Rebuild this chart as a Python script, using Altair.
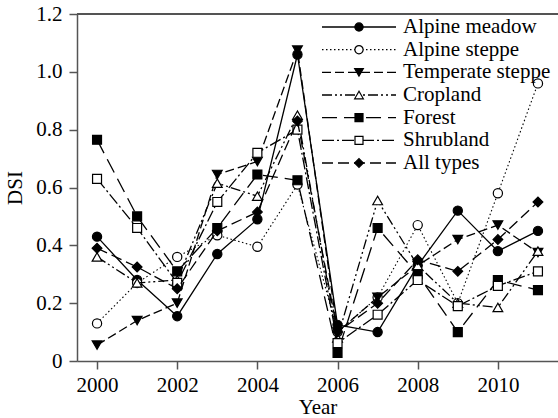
import altair as alt
import pandas as pd

years = list(range(2000, 2012))
series_names = ["Alpine meadow", "Alpine steppe", "Temperate steppe", "Cropland",
                "Forest", "Shrubland", "All types"]
alpine_meadow = [0.43, 0.28, 0.155, 0.37, 0.49, 1.06, 0.125, 0.10, 0.33, 0.52, 0.38, 0.45]
alpine_steppe = [0.13, 0.27, 0.36, 0.435, 0.395, 0.61, 0.10, 0.22, 0.47, 0.20, 0.58, 0.96]
temperate_steppe = [0.055, 0.14, 0.20, 0.645, 0.69, 1.075, 0.10, 0.22, 0.33, 0.42, 0.47, 0.375]
cropland = [0.36, 0.27, 0.28, 0.615, 0.57, 0.85, 0.08, 0.555, 0.33, 0.20, 0.185, 0.38]
forest = [0.765, 0.50, 0.31, 0.46, 0.645, 0.625, 0.028, 0.46, 0.30, 0.10, 0.28, 0.245]
shrubland = [0.63, 0.46, 0.27, 0.55, 0.72, 0.80, 0.062, 0.16, 0.28, 0.19, 0.26, 0.31]
all_types = [0.39, 0.325, 0.25, 0.45, 0.515, 0.83, 0.10, 0.20, 0.35, 0.31, 0.42, 0.55]

values = [alpine_meadow, alpine_steppe, temperate_steppe, cropland, forest, shrubland, all_types]

rows = []
for name, vals in zip(series_names, values):
    for y, v in zip(years, vals):
        rows.append({"year": y, "dsi": v, "series": name})
df = pd.DataFrame(rows)
leg_df = pd.DataFrame({"series": series_names})

# styles
dashes = {
    "Alpine meadow": None,
    "Alpine steppe": [1.5, 2.5],
    "Temperate steppe": [9, 4],
    "Cropland": [10, 3, 2, 3, 2, 3],
    "Forest": [15, 7],
    "Shrubland": [12, 3, 2, 3],
    "All types": [11, 5],
}
shapes = {
    "Alpine meadow": ("circle", True),
    "Alpine steppe": ("circle", False),
    "Temperate steppe": ("triangle-down", True),
    "Cropland": ("triangle-up", False),
    "Forest": ("square", True),
    "Shrubland": ("square", False),
    "All types": ("diamond", True),
}

FONT = "Liberation Serif"
FS = 21
W, H = 481, 347
AXC = "#555555"

xscale = alt.Scale(domain=[1999.5, 2011.5], nice=False, zero=False)
yscale = alt.Scale(domain=[0, 1.2], nice=False)

xaxis = alt.Axis(values=[2000, 2002, 2004, 2006, 2008, 2010], format="d", title="Year",
                 grid=False, tickSize=8, labelPadding=5, titlePadding=1,
                 labelFont=FONT, labelFontSize=FS, titleFont=FONT, titleFontSize=FS,
                 titleFontWeight="normal", labelColor="black", titleColor="black",
                 domainColor=AXC, tickColor=AXC, domainWidth=1.5, tickWidth=1.5)
yaxis = alt.Axis(values=[0, 0.2, 0.4, 0.6, 0.8, 1.0, 1.2], title="DSI",
                 labelExpr="datum.value == 0 ? '0' : format(datum.value, '.1f')",
                 grid=False, tickSize=8, labelPadding=7, titlePadding=10,
                 labelFont=FONT, labelFontSize=FS, titleFont=FONT, titleFontSize=FS,
                 titleFontWeight="normal", labelColor="black", titleColor="black",
                 domainColor=AXC, tickColor=AXC, domainWidth=1.5, tickWidth=1.5)

enc_x = alt.X("year:Q", scale=xscale, axis=xaxis)
enc_y = alt.Y("dsi:Q", scale=yscale, axis=yaxis)

base = alt.Chart(df)
data_layers = []
legend_layers = []
leg_y = alt.Y("series:N", scale=alt.Scale(type="point", domain=series_names,
                                          range=[13, 149], padding=0), axis=None)
leg_base = alt.Chart(leg_df)
for name in series_names:
    sub = base.transform_filter(alt.datum.series == name)
    lkw = dict(color="black", strokeWidth=1.3)
    if dashes[name]:
        lkw["strokeDash"] = dashes[name]
    if name == "Alpine steppe":
        lkw["strokeWidth"] = 1.1
    line = sub.mark_line(**lkw).encode(x=enc_x, y=enc_y)
    shp, filled = shapes[name]
    size = 85 if shp == "circle" else (80 if shp == "square" else 95)
    pkw = dict(shape=shp, filled=True, fill="black" if filled else "white",
               stroke="black", strokeWidth=1.2, opacity=1)
    pts = sub.mark_point(size=size, **pkw).encode(x=enc_x, y=enc_y)
    data_layers += [line, pts]

    lsub = leg_base.transform_filter(alt.datum.series == name)
    lrule = lsub.mark_rule(**lkw).encode(x=alt.value(245), x2=alt.value(319), y=leg_y)
    lpt = lsub.mark_point(size=size * 0.8, **pkw).encode(x=alt.value(282), y=leg_y)
    legend_layers += [lrule, lpt]

leg_text = leg_base.mark_text(align="left", baseline="middle", font=FONT, fontSize=FS,
                              color="black").encode(
    x=alt.value(326), y=leg_y, text="series:N")
legend_layers.append(leg_text)

top_rule = alt.Chart(leg_df).mark_rule(color=AXC, strokeWidth=1.5).encode(
    x=alt.value(0), x2=alt.value(W), y=alt.value(0))

chart = alt.layer(
    alt.layer(*data_layers),
    alt.layer(*legend_layers),
    top_rule,
).resolve_scale(y="independent").properties(
    width=W, height=H,
    padding={"left": 77, "top": 14, "right": 0, "bottom": 57},
    autosize=alt.AutoSizeParams(type="none"),
).configure_view(stroke=None).configure_axis(
    labelFont=FONT, titleFont=FONT
).configure(background="white")

chart.save("out.html", embed_options={"renderer": "svg", "actions": False})
